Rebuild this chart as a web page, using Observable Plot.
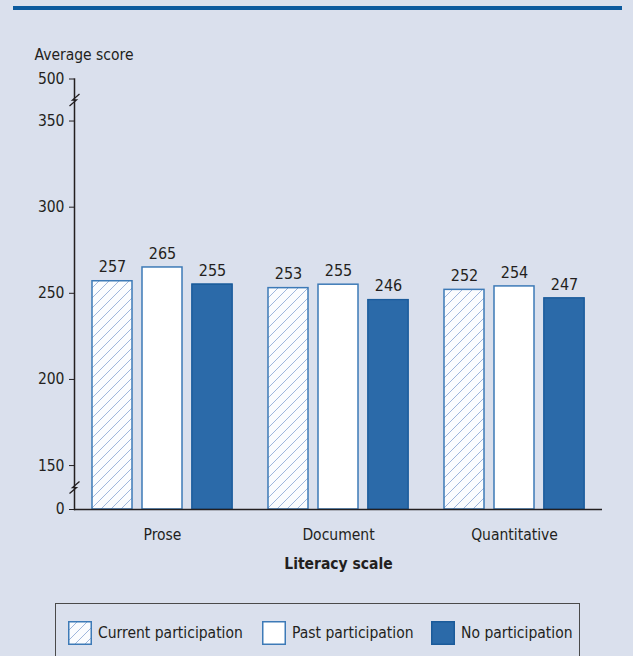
<!DOCTYPE html>
<html><head><meta charset="utf-8">
<script src="https://cdn.jsdelivr.net/npm/d3@7"></script>
<script src="https://cdn.jsdelivr.net/npm/@observablehq/plot@0.6"></script>
<style>
body{margin:0;background:#dae0ed;font-family:"DejaVu Sans Condensed","Liberation Sans Narrow",sans-serif;color:#231f20;}
#wrap{position:relative;width:633px;height:656px;overflow:hidden;}
#topline{position:absolute;left:13px;top:6px;width:609px;height:4px;background:#0b5a9e;}
#chart{position:absolute;left:0;top:0;}
#legend{position:absolute;left:55px;top:603px;width:525px;height:70px;border:1px solid #4a4a4a;box-sizing:border-box;}
.item{position:absolute;top:17px;display:flex;align-items:center;font-size:15.5px;line-height:23px;white-space:nowrap;}
.item svg{margin-right:6px;display:block;}
</style></head>
<body>
<svg width="0" height="0" style="position:absolute">
  <defs>
    <pattern id="hatch" patternUnits="userSpaceOnUse" width="10" height="10">
      <rect width="10" height="10" fill="#fbfcfe"></rect>
      <path d="M-2.5,2.5L2.5,-2.5M0,10L10,0M7.5,12.5L12.5,7.5" stroke="#9fb6dc" stroke-width="1"></path>
    </pattern>
  </defs>
</svg>
<div id="wrap">
  <div id="topline"></div>
  <div id="chart"></div>
  <div id="legend"></div>
</div>
<script>
const scales = ["Prose", "Document", "Quantitative"];
const groups = ["Current participation", "Past participation", "No participation"];
const currentScores = [257, 253, 252];
const pastScores = [265, 255, 254];
const noScores = [255, 246, 247];
const yTicks = [0, 150, 200, 250, 300, 350, 500];
const yBreaks = [425, 75];

const series = [currentScores, pastScores, noScores];
const table = [];
scales.forEach((s, i) => groups.forEach((g, j) => table.push({scale: s, group: g, value: series[j][i]})));

const fills = ["url(#hatch)", "#ffffff", "#2b6aa9"];
const strokes = ["#3d7ab7", "#3d7ab7", "#1b5b9a"];
const font = '"DejaVu Sans Condensed","Liberation Sans Narrow",sans-serif';
const ink = "#231f20";

// broken axis: 0–150 and 350–500 are compressed
const lowK = 0.17, highK = 0.1627;
const fwd = v => v < 150 ? 150 - (150 - v) * lowK : v > 350 ? 350 + (v - 350) * highK : v;
const inv = t => Math.round(t < 150 ? 150 - (150 - t) / lowK : t > 350 ? 350 + (t - 350) / highK : t);

const zigzag = {
  draw(ctx) {
    ctx.moveTo(-5, 6); ctx.lineTo(2, 0); ctx.lineTo(-2, 0); ctx.lineTo(5, -6);
  }
};

const chart = Plot.plot({
  width: 633, height: 590,
  marginLeft: 74, marginRight: 31, marginTop: 78.5, marginBottom: 81,
  style: {background: "transparent", fontFamily: font, fontSize: "15px", color: ink, overflow: "visible"},
  fx: {domain: scales, padding: 0, axis: null, label: null},
  x: {domain: groups, paddingInner: 0.2, paddingOuter: 0.36, axis: null, round: false},
  y: {domain: [fwd(0), fwd(500)], axis: null},
  color: {domain: groups, range: fills},
  marks: [
    Plot.barY(table, {fx: "scale", x: "group", y1: () => fwd(0), y2: d => fwd(d.value), fill: "group", stroke: "#3d7ab7", strokeWidth: 1.5}),
    Plot.barY(table.filter(d => d.group === groups[2]), {fx: "scale", x: "group", y1: () => fwd(0), y2: d => fwd(d.value), fill: "none", stroke: strokes[2], strokeWidth: 1.5}),
    Plot.text(table, {fx: "scale", x: "group", y: d => fwd(d.value), text: d => String(d.value), dy: -14, fontSize: 16, fill: ink}),
    Plot.ruleY([0], {y: d => fwd(d), stroke: ink, strokeWidth: 1.5}),
    Plot.frame({anchor: "left", facetAnchor: "left", stroke: ink, strokeWidth: 1.5}),
    Plot.dot(yBreaks, {y: d => fwd(d), frameAnchor: "left", facetAnchor: "left", symbol: zigzag, stroke: ink, fill: "none", strokeWidth: 1.3}),
    Plot.axisY({ticks: yTicks.map(fwd), tickFormat: t => String(inv(t)), tickSize: 5, tickPadding: 5, fontSize: 15.5, label: null, stroke: ink}),
    Plot.text(["Average score"], {frameAnchor: "top-left", facetAnchor: "left", dx: -40, dy: -30, textAnchor: "start", fontSize: 15.5, fill: ink}),
    Plot.axisFx({anchor: "bottom", tickSize: 0, tickPadding: 19, fontSize: 15.5, label: null}),
    Plot.axisFx({anchor: "bottom", tickSize: 0, tickFormat: () => "", label: "Literacy scale", labelAnchor: "center", labelArrow: "none", labelOffset: 59, fontSize: 15.5, fontWeight: "bold"})
  ]
});
document.getElementById("chart").appendChild(chart);

// legend
const legend = document.getElementById("legend");
const lefts = [12, 206, 375];
groups.forEach((g, j) => {
  const it = document.createElement("div");
  it.className = "item";
  it.style.left = lefts[j] + "px";
  it.innerHTML = `<svg width="24" height="24"><rect x="0.75" y="0.75" width="22.5" height="22.5" fill="${fills[j]}" stroke="${strokes[j]}" stroke-width="1.5"></rect></svg><span>${g}</span>`;
  legend.appendChild(it);
});
</script>
</body></html>
